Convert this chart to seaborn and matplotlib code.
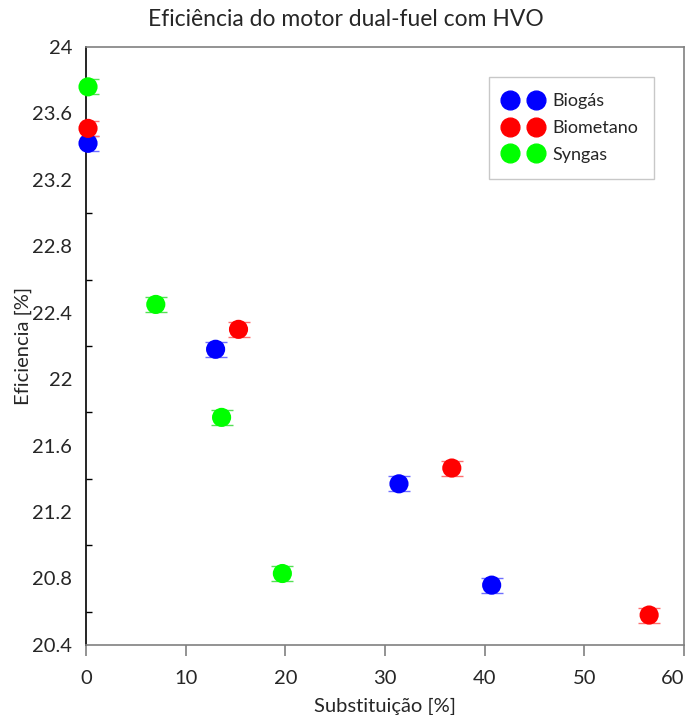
import numpy as np
import pandas as pd
import matplotlib
matplotlib.use("Agg")
import matplotlib.pyplot as plt
import seaborn as sns
from matplotlib.lines import Line2D
from matplotlib.ticker import MultipleLocator

# ==========================================================
#                        DATA
# ==========================================================
fuels = ["Biogás", "Biometano", "Syngas"]
colors = ["#0000ff", "#ff0000", "#00ff00"]

biogas_x = [0.2, 13.0, 31.4, 40.7]
biogas_y = [23.42, 22.18, 21.37, 20.76]

biometano_x = [0.2, 15.3, 36.7, 56.5]
biometano_y = [23.51, 22.30, 21.465, 20.58]

syngas_x = [0.2, 7.0, 13.6, 19.7]
syngas_y = [23.76, 22.45, 21.77, 20.83]

err = 0.045

x_ticks = [0, 10, 20, 30, 40, 50, 60]
y_ticks = [20.4, 20.8, 21.2, 21.6, 22.0, 22.4, 22.8, 23.2, 23.6, 24.0]
y_ticklabels = ["20.4", "20.8", "21.2", "21.6", "22", "22.4", "22.8",
                "23.2", "23.6", "24"]

df = pd.DataFrame({
    "x": biogas_x + biometano_x + syngas_x,
    "y": biogas_y + biometano_y + syngas_y,
    "fuel": [fuels[0]] * 4 + [fuels[1]] * 4 + [fuels[2]] * 4,
})

# ==========================================================
#                        PLOT
# ==========================================================
sns.set_style("ticks")
plt.rcParams["font.family"] = ["Lato", "DejaVu Sans"]

fig = plt.figure(figsize=(6.91, 7.15), dpi=100)
ax = fig.add_axes([0.1245, 0.098, 0.8654, 0.8363])

palette = dict(zip(fuels, colors))
light = {"Biogás": "#6f6fff", "Biometano": "#ff6f6f", "Syngas": "#55e055"}

for f in fuels:
    sub = df[df["fuel"] == f]
    ax.errorbar(sub["x"], sub["y"], yerr=err, fmt="none", ecolor=light[f],
                elinewidth=0.8, capsize=8, capthick=1.0, zorder=2)

sns.scatterplot(data=df, x="x", y="y", hue="fuel", palette=palette, s=190,
                edgecolor="none", legend=False, ax=ax, zorder=3, clip_on=False)

ax.set_xlim(0, 60)
ax.set_ylim(20.4, 24)
ax.set_xticks(x_ticks)
ax.set_yticks(y_ticks)
ax.set_yticklabels(y_ticklabels)
ax.yaxis.set_minor_locator(MultipleLocator(0.2))

ax.tick_params(axis="x", which="major", direction="out", length=8,
               width=1.2, labelsize=14.5, color="#808080", pad=10)
ax.tick_params(axis="y", which="major", length=0, labelsize=14.5, pad=10)
ax.tick_params(axis="y", which="minor", direction="in", length=4, width=1,
               color="black")

# last x label kept inside the figure, like the original
ax.xaxis.get_major_ticks()[-1].label1.set_horizontalalignment("right")

ax.spines["left"].set_color("black")
for side in ["bottom", "top", "right"]:
    ax.spines[side].set_color("#808080")
for s in ax.spines.values():
    s.set_linewidth(1.2)

ax.set_xlabel("Substituição [%]", fontsize=14.5, labelpad=8)
ax.set_ylabel("Eficiencia [%]", fontsize=14.5, labelpad=0)
fig.suptitle("Eficiência do motor dual-fuel com HVO", fontsize=16.5, y=0.988)

handles = [Line2D([0], [0], marker="o", color=c, linestyle="none",
                  markersize=13.5) for c in colors]
leg = ax.legend(handles, fuels, loc="upper right", bbox_to_anchor=(0.95, 0.95),
                borderaxespad=0, numpoints=2, fancybox=False, fontsize=13,
                handlelength=2.0, labelspacing=0.6, borderpad=0.9,
                handletextpad=0.6)
leg.get_frame().set_edgecolor("#bbbbbb")
leg.get_frame().set_linewidth(1)

fig.savefig("out.png", dpi=100)
plt.close(fig)
